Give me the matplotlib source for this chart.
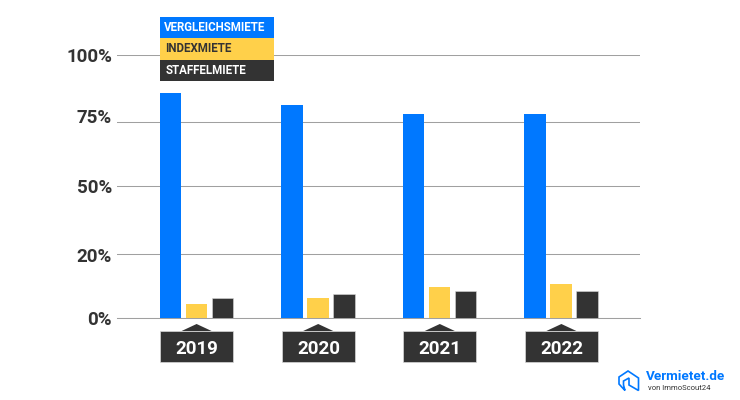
import matplotlib
matplotlib.use('Agg')
import matplotlib.pyplot as plt
from matplotlib.patches import Rectangle, Polygon, PathPatch
from matplotlib.path import Path
from matplotlib.transforms import Affine2D
import numpy as np

years = ['2019', '2020', '2021', '2022']
vergleichsmiete = [85.7, 81.0, 77.6, 77.6]
indexmiete = [5.4, 7.7, 11.9, 13.0]
staffelmiete = [7.7, 9.1, 10.2, 10.2]
tick_pos = [0, 24.3, 50.2, 74.5, 100]
tick_labels = ['0%', '20%', '50%', '75%', '100%']
legend_names = ['VERGLEICHSMIETE', 'INDEXMIETE', 'STAFFELMIETE']

BLUE = '#0078ff'
YELLOW = '#ffd04a'
DARK = '#333333'
GRID = '#a0a0a0'
W, H = 740, 400

plt.rcParams['font.family'] = ['Roboto', 'DejaVu Sans']

fig = plt.figure(figsize=(7.4, 4), dpi=100)
ax = fig.add_axes([117 / W, 1 - 318.3 / H, (640 - 117) / W, (318.3 - 55.3) / H])


def fx(x):
    return x / W


def fy(y):
    return 1 - y / H


def box(x0, y0, x1, y1, color, edge='none'):
    fig.add_artist(Rectangle((fx(x0), fy(y1)), (x1 - x0) / W, (y1 - y0) / H,
                             transform=fig.transFigure, facecolor=color, edgecolor=edge, linewidth=0.5))


x = np.arange(len(years))
width = 0.176
ax.bar(x - 0.214, vergleichsmiete, width, color=BLUE, zorder=3)
ax.bar(x, indexmiete, width, color=YELLOW, zorder=3)
ax.bar(x + 0.214, staffelmiete, width, color=DARK, edgecolor='#d8d8d8', linewidth=0.4, zorder=3)

ax.set_xlim(-0.655, 3.649)
ax.set_ylim(0, 100)
ax.set_yticks(tick_pos)
ax.set_yticklabels(tick_labels, fontsize=13.5, fontweight='bold', color=DARK)
ax.set_xticks([])
ax.tick_params(axis='y', length=0, pad=3.6)
ax.grid(axis='y', color=GRID, linewidth=0.75, zorder=0)
ax.set_axisbelow(True)
for s in ['top', 'right', 'left']:
    ax.spines[s].set_visible(False)
ax.spines['bottom'].set_color(GRID)
ax.spines['bottom'].set_linewidth(0.75)
# the labels do not all sit on their lines in the original
for lab, dy in zip(ax.get_yticklabels(), [0, -1, 0, 6.5, 0]):
    lab.set_transform(lab.get_transform() + Affine2D().translate(0, dy))

# year badges under the groups
for i, year in enumerate(years):
    cx = 196.6 + i * 121.6
    box(cx - 36.5, 331, cx + 36.5, 362, DARK, edge='#d8d8d8')
    fig.add_artist(Polygon([(fx(cx - 15), fy(331)), (fx(cx), fy(324)), (fx(cx + 15), fy(331))],
                           transform=fig.transFigure, facecolor=DARK, edgecolor='none'))
    fig.text(fx(cx + 0.5), fy(349.5), year, color='white', fontsize=13.5, fontweight='bold',
             ha='center', va='center')

# legend blocks
legend_colors = [BLUE, YELLOW, DARK]
legend_text = ['white', DARK, 'white']
legend_y = [(17, 38), (38, 60), (60, 81)]
legend_x = [164, 165, 166]
for name, c, tc, (y0, y1), lx in zip(legend_names, legend_colors, legend_text, legend_y, legend_x):
    box(160, y0, 273.5, y1, c)
    fig.text(fx(lx), fy((y0 + y1) / 2), name, color=tc, fontsize=8.3, fontweight='bold',
             ha='left', va='center')

# logo
outer = [(625, 390.5), (619, 384), (619, 377), (628, 371), (638.5, 378), (638.5, 390.5), (629, 385),
         (629, 378), (623.5, 381), (623.5, 385), (625, 390.5)]
fig.add_artist(PathPatch(Path([(fx(a), fy(b)) for a, b in outer]), transform=fig.transFigure,
                         facecolor='none', edgecolor=BLUE, linewidth=1.2))
fig.text(fx(646), fy(376), 'Vermietet.de', color=BLUE, fontsize=9.7, fontweight='bold',
         ha='left', va='center')
fig.text(fx(648), fy(388.5), 'von ImmoScout24', color=DARK, fontsize=5.5, ha='left', va='center')

fig.savefig('out.png', dpi=100)
